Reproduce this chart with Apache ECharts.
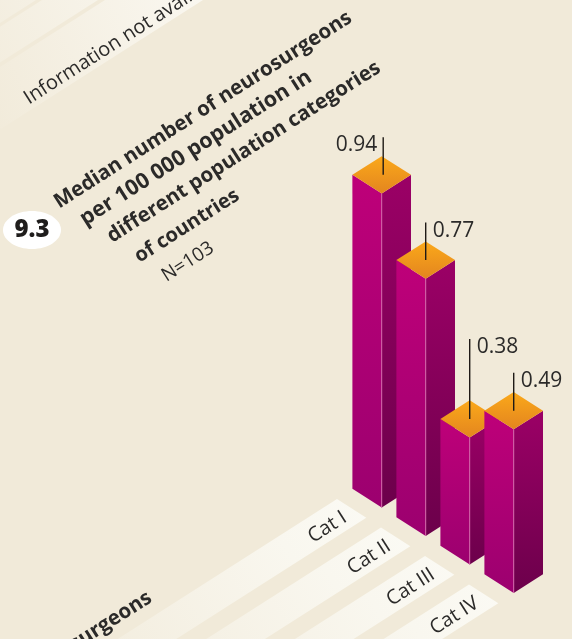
<!DOCTYPE html>
<html><head><meta charset="utf-8">
<style>html,body{margin:0;padding:0;background:#F1EAD9}#c{width:572px;height:639px}</style>
<script src="https://cdn.jsdelivr.net/npm/echarts@6/dist/echarts.min.js"></script>
</head><body><div id="c"></div>
<script>
const categories = ['Cat I', 'Cat II', 'Cat III', 'Cat IV'];
const medians = [0.94, 0.77, 0.38, 0.49];
const titleLines = ['Median number of neurosurgeons', 'per 100 000 population in', 'different population categories', 'of countries'];
const sampleNote = 'N=103';
const figureNumber = '9.3';
const missingNote = 'Information not available';
const nextTitleTail = 'neurosurgeons';

const BG = '#F1EAD9', INK = '#2b2a29', FONT = '"Open Sans","Noto Sans",sans-serif';
const HX = 29.3, HY = 18.7, STEP_Y = 28.5, ANG = Math.atan2(HY, HX);
const LEADER = [37.5, 37.5, 80, 38], LEAD_DX = [1.5, 0, 0, 0];
const LG = (a, b) => new echarts.graphic.LinearGradient(0, 0, 0, 1, [{offset: 0, color: a}, {offset: 1, color: b}]);

function renderItem(params, api) {
  const i = api.value(0), v = api.value(1);
  const base = api.coord([i, 0]), top = api.coord([i, v]);
  const x = base[0], yb = base[1] + i * STEP_Y, yt = top[1] + i * STEP_Y;
  const children = [];
  // pale strip running to the lower left from the category label
  const L = 340, dx = -L * Math.cos(ANG), dy = L * Math.sin(ANG);
  const ax = x - 44.7, ay = yb - 8.5;
  children.push({type: 'polygon', shape: {points: [[ax, ay], [ax + HX, ay + HY], [ax + HX + dx, ay + HY + dy], [ax + dx, ay + dy]]},
    style: {fill: new echarts.graphic.LinearGradient(1, 0, 0, 1, [{offset: 0, color: '#FBFAF4'}, {offset: 0.25, color: '#F9F7EF'}, {offset: 1, color: BG}])}});
  children.push({type: 'text', rotation: ANG, x: ax + 8, y: ay + 17,
    style: {text: categories[i], font: '20px ' + FONT, fill: INK, align: 'right', verticalAlign: 'middle'}});
  // left face, right face, top face
  children.push({type: 'polygon', shape: {points: [[x - HX, yt - HY], [x, yt], [x, yb], [x - HX, yb - HY]]}, style: {fill: LG('#BE0079', '#9C006F')}});
  children.push({type: 'polygon', shape: {points: [[x, yt], [x + HX, yt - HY], [x + HX, yb - HY], [x, yb]]}, style: {fill: LG('#9B0066', '#6C004B')}});
  children.push({type: 'line', shape: {x1: x, y1: yt, x2: x, y2: yb}, style: {stroke: '#D565AC', lineWidth: 1}});
  children.push({type: 'polygon', shape: {points: [[x, yt - 2 * HY], [x + HX, yt - HY], [x, yt], [x - HX, yt - HY]]}, style: {fill: LG('#FBA91A', '#E3851F')}});
  // leader and value label
  const lx = x + LEAD_DX[i], cy = yt - HY, ly = cy - LEADER[i];
  children.push({type: 'line', shape: {x1: lx, y1: cy, x2: lx, y2: ly}, style: {stroke: '#1f1a16', lineWidth: 1.4}});
  const leftSide = i === 0;
  children.push({type: 'text', x: lx + (leftSide ? -6 : 7), y: ly + 8,
    style: {text: v.toFixed(2), font: '21px ' + FONT, fill: INK, align: leftSide ? 'right' : 'left', verticalAlign: 'middle'}});
  return {type: 'group', children};
}

// a decorative band given by where its two edges cross the top of the page
function band(a, b, len, c0) {
  const dx = -len * Math.cos(ANG), dy = len * Math.sin(ANG), k = HX / HY * 20;
  return {type: 'polygon', z: 0, shape: {points: [[a + k, -20], [b + k, -20], [b + k + dx, -20 + dy], [a + k + dx, -20 + dy]]},
    style: {fill: new echarts.graphic.LinearGradient(1, 0, 0, 1, [{offset: 0, color: c0}, {offset: 0.72, color: BG}, {offset: 1, color: BG}])}};
}
const rotText = (text, x, y, font, align) => ({type: 'text', z: 5, rotation: ANG, x, y,
  style: {text, font, fill: INK, align: align || 'center', verticalAlign: 'middle'}});

const titleCentres = [[203, 110], [196, 148], [244, 152], [187, 226]];
const titleSizes = [20.5, 21.5, 20.5, 20];
const graphics = [
  band(105, 203, 320, '#FBF9F3'),
  band(42, 98, 260, '#F8F5EC'),
  band(-30, 36, 160, '#F6F2E7'),
  rotText(missingNote, 26, 100, '20px ' + FONT, 'left'),
  ...titleLines.map((t, k) => rotText(t, titleCentres[k][0], titleCentres[k][1], '700 ' + titleSizes[k] + 'px ' + FONT)),
  rotText(sampleNote, 188, 262, '19px ' + FONT),
  {type: 'ellipse', z: 4, shape: {cx: 32, cy: 230, rx: 29, ry: 19}, style: {fill: '#FFFFFF'}},
  {type: 'text', z: 5, x: 32, y: 230, style: {text: figureNumber, font: '800 24px ' + FONT, fill: '#1f1d1c', align: 'center', verticalAlign: 'middle'}},
  rotText(nextTitleTail, 150, 596, '700 20.5px ' + FONT, 'right')
];

const chart = echarts.init(document.getElementById('c'));
chart.setOption({
  backgroundColor: BG,
  animation: false,
  grid: {left: 359.7, width: 176, top: 173.5, height: 334},
  xAxis: {type: 'category', data: categories, show: false},
  yAxis: {type: 'value', min: 0, max: 1, show: false},
  series: [{type: 'custom', clip: false, renderItem, data: medians.map((m, i) => [i, m]), encode: {x: 0, y: 1}}],
  graphic: graphics
});
</script></body></html>
